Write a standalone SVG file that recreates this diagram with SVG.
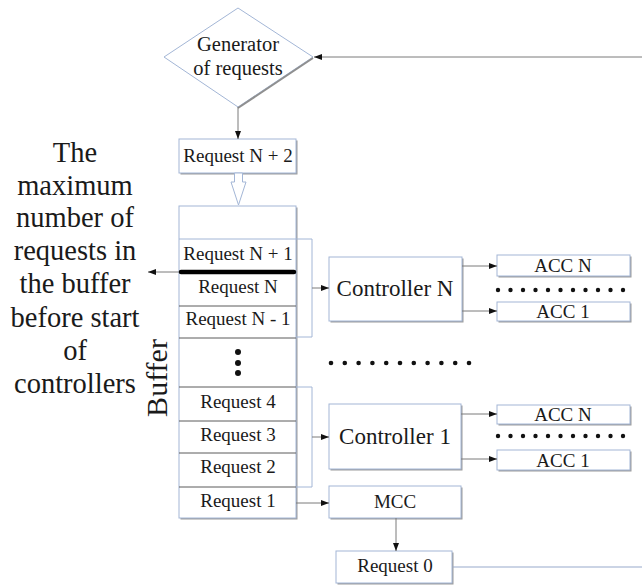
<svg xmlns="http://www.w3.org/2000/svg" width="642" height="586" viewBox="0 0 642 586">
<defs>
<style>
text{font-family:"Liberation Serif","Times New Roman",serif;fill:#1a1a1a;text-anchor:middle}
.t{font-size:19px}
.c{font-size:23px}
.box{fill:#fff;stroke:#a3b6d6;stroke-width:1}
.sh{fill:#9c9c9c}
.ln{fill:none;stroke:#7a7a7a;stroke-width:1}
.bl{fill:none;stroke:#a3b6d6;stroke-width:1}
.div{stroke:#5a5a5a;stroke-width:1}
.dot{fill:#111}
</style>
<marker id="ah" markerWidth="8" markerHeight="6" refX="8" refY="3" orient="auto" markerUnits="userSpaceOnUse">
<path d="M0,0 L8,3 L0,6 z" fill="#111"/>
</marker>
</defs>
<rect width="642" height="586" fill="#fff"/>

<g id="generator">
<polygon points="238,8 313,57 238,107 164,57" fill="#fff" stroke="#a3b6d6"/>
<polyline points="313,58 238,108" fill="none" stroke="#8f8f8f" stroke-width="2"/>
<text x="238" y="51" style="font-size:20.5px">Generator</text>
<text x="238" y="75" style="font-size:20.5px">of requests</text>
</g>

<g id="request-n2">
<rect class="sh" x="180.5" y="140.5" width="117" height="34"/>
<rect class="box" x="179" y="139" width="117" height="34"/>
<text class="t" x="238" y="162">Request N + 2</text>
</g>

<g id="buffer">
<rect class="sh" x="180.5" y="207.5" width="117" height="312"/>
<rect class="box" x="179" y="206" width="117" height="312"/>
<line class="bl" x1="179" y1="239" x2="296" y2="239"/>
<line class="div" x1="179" y1="306" x2="296" y2="306"/>
<line class="div" x1="179" y1="338" x2="296" y2="338"/>
<line class="div" x1="179" y1="387" x2="296" y2="387"/>
<line class="div" x1="179" y1="421" x2="296" y2="421"/>
<line class="div" x1="179" y1="453" x2="296" y2="453"/>
<line class="div" x1="179" y1="487" x2="296" y2="487"/>
<text class="t" x="238" y="260">Request N + 1</text>
<text class="t" x="238" y="293">Request N</text>
<text class="t" x="238" y="325">Request N - 1</text>
<circle class="dot" cx="238" cy="352" r="3"/>
<circle class="dot" cx="238" cy="363" r="3"/>
<circle class="dot" cx="238" cy="373" r="3"/>
<text class="t" x="238" y="408">Request 4</text>
<text class="t" x="238" y="441">Request 3</text>
<text class="t" x="238" y="473">Request 2</text>
<text class="t" x="238" y="507">Request 1</text>
<line x1="181" y1="272" x2="294" y2="272" stroke="#000" stroke-width="4.5" stroke-linecap="round"/>
<text transform="translate(167,378) rotate(-90)" style="font-size:30px">Buffer</text>
</g>

<g id="max-label" style="font-size:28.5px">
<text x="75" y="162">The</text>
<text x="75" y="195">maximum</text>
<text x="75" y="227">number of</text>
<text x="75" y="260">requests in</text>
<text x="75" y="293">the buffer</text>
<text x="75" y="327">before start</text>
<text x="75" y="360">of</text>
<text x="75" y="393">controllers</text>
</g>

<g id="controller-n">
<rect class="sh" x="330.5" y="258.5" width="133" height="64"/>
<rect class="box" x="329" y="257" width="133" height="64"/>
<text class="c" x="395" y="296">Controller N</text>
</g>

<g id="controller-1">
<rect class="sh" x="330.5" y="405.5" width="132" height="65"/>
<rect class="box" x="329" y="404" width="132" height="65"/>
<text class="c" x="395" y="444">Controller 1</text>
</g>

<g id="acc-n-top">
<rect class="sh" x="498.5" y="256.5" width="133" height="21"/>
<rect class="box" x="497" y="255" width="133" height="21"/>
<text class="t" x="563" y="272">ACC N</text>
</g>
<g id="acc-1-top">
<rect class="sh" x="498.5" y="303.5" width="133" height="19"/>
<rect class="box" x="497" y="302" width="133" height="19"/>
<text class="t" x="563" y="318">ACC 1</text>
</g>
<g id="acc-n-bottom">
<rect class="sh" x="498.5" y="406.5" width="133" height="19"/>
<rect class="box" x="497" y="405" width="133" height="19"/>
<text class="t" x="563" y="421">ACC N</text>
</g>
<g id="acc-1-bottom">
<rect class="sh" x="498.5" y="451.5" width="133" height="20"/>
<rect class="box" x="497" y="450" width="133" height="20"/>
<text class="t" x="563" y="467">ACC 1</text>
</g>

<g id="mcc">
<rect class="sh" x="330.5" y="487.5" width="132" height="32"/>
<rect class="box" x="329" y="486" width="132" height="32"/>
<text class="t" x="395" y="508">MCC</text>
</g>

<g id="request-0">
<rect class="sh" x="337.5" y="552.5" width="116" height="32"/>
<rect class="box" x="336" y="551" width="116" height="32"/>
<text class="t" x="395" y="572">Request 0</text>
</g>

<g id="dots">
<g class="dot">
<circle cx="498" cy="290" r="2.2"/><circle cx="510.5" cy="290" r="2.2"/><circle cx="523" cy="290" r="2.2"/><circle cx="535.5" cy="290" r="2.2"/><circle cx="548" cy="290" r="2.2"/><circle cx="560.5" cy="290" r="2.2"/><circle cx="573" cy="290" r="2.2"/><circle cx="585.5" cy="290" r="2.2"/><circle cx="598" cy="290" r="2.2"/><circle cx="610.5" cy="290" r="2.2"/><circle cx="623" cy="290" r="2.2"/>
<circle cx="498" cy="436" r="2.2"/><circle cx="510.5" cy="436" r="2.2"/><circle cx="523" cy="436" r="2.2"/><circle cx="535.5" cy="436" r="2.2"/><circle cx="548" cy="436" r="2.2"/><circle cx="560.5" cy="436" r="2.2"/><circle cx="573" cy="436" r="2.2"/><circle cx="585.5" cy="436" r="2.2"/><circle cx="598" cy="436" r="2.2"/><circle cx="610.5" cy="436" r="2.2"/><circle cx="623" cy="436" r="2.2"/>
<circle cx="331" cy="363" r="2.3"/><circle cx="344.8" cy="363" r="2.3"/><circle cx="358.6" cy="363" r="2.3"/><circle cx="372.4" cy="363" r="2.3"/><circle cx="386.2" cy="363" r="2.3"/><circle cx="400" cy="363" r="2.3"/><circle cx="413.8" cy="363" r="2.3"/><circle cx="427.6" cy="363" r="2.3"/><circle cx="441.4" cy="363" r="2.3"/><circle cx="455.2" cy="363" r="2.3"/><circle cx="469" cy="363" r="2.3"/>
</g>
</g>

<g id="connectors">
<line class="ln" x1="238" y1="107" x2="238" y2="139" marker-end="url(#ah)"/>
<polygon points="234.5,173 242.5,173 242.5,182 246,182 238.5,205 231,182 234.5,182" fill="#fff" stroke="#a3b6d6"/>
<line class="ln" x1="642" y1="57" x2="314" y2="57" marker-end="url(#ah)"/>
<line class="ln" x1="179" y1="272" x2="148" y2="272" marker-end="url(#ah)"/>
<path class="bl" d="M296,239 H312 V337 H296"/>
<line class="ln" x1="312" y1="288" x2="329" y2="288" marker-end="url(#ah)"/>
<line class="ln" x1="462" y1="266" x2="497" y2="266" marker-end="url(#ah)"/>
<line class="ln" x1="462" y1="311" x2="497" y2="311" marker-end="url(#ah)"/>
<path class="bl" d="M296,387 H312 V487 H296"/>
<line class="ln" x1="312" y1="437" x2="329" y2="437" marker-end="url(#ah)"/>
<line class="ln" x1="461" y1="414" x2="497" y2="414" marker-end="url(#ah)"/>
<line class="ln" x1="461" y1="459" x2="497" y2="459" marker-end="url(#ah)"/>
<line class="ln" x1="296" y1="503" x2="329" y2="503" marker-end="url(#ah)"/>
<line class="ln" x1="396" y1="518" x2="396" y2="551" marker-end="url(#ah)"/>
<line x1="453" y1="567" x2="642" y2="567" stroke="#98aacb" stroke-width="1.2"/>
</g>
</svg>
